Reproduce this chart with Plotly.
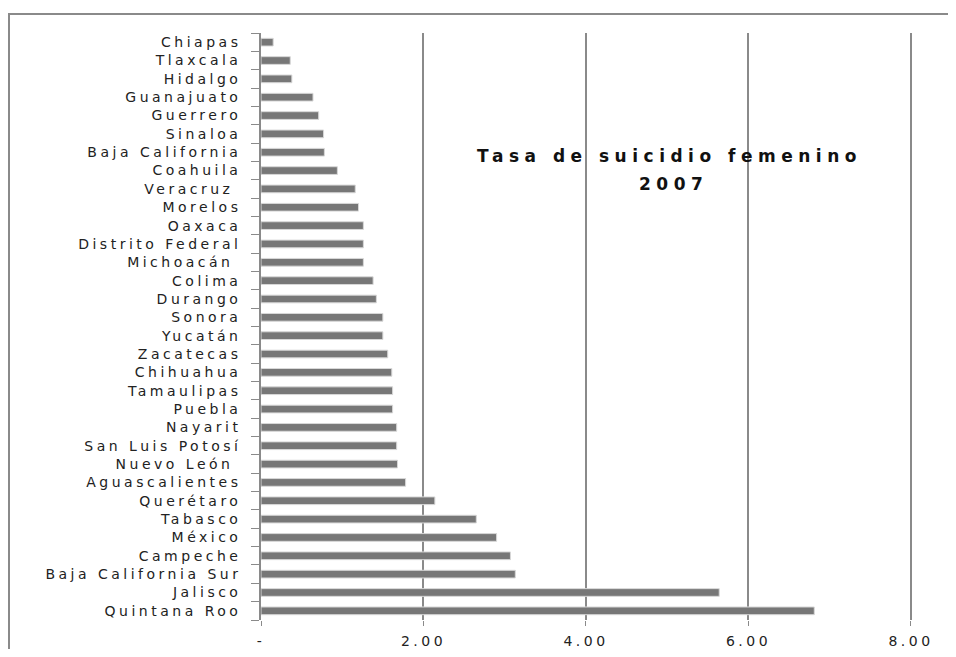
import plotly.graph_objects as go

estados = ["Chiapas", "Tlaxcala", "Hidalgo", "Guanajuato", "Guerrero", "Sinaloa",
           "Baja California", "Coahuila", "Veracruz ", "Morelos", "Oaxaca",
           "Distrito Federal", "Michoacán ", "Colima", "Durango", "Sonora", "Yucatán",
           "Zacatecas", "Chihuahua", "Tamaulipas", "Puebla", "Nayarit",
           "San Luis Potosí", "Nuevo León ", "Aguascalientes", "Querétaro", "Tabasco",
           "México", "Campeche", "Baja California Sur", "Jalisco", "Quintana Roo"]
tasa = [0.15, 0.36, 0.38, 0.64, 0.71, 0.77, 0.78, 0.94, 1.16, 1.20, 1.26,
        1.26, 1.26, 1.38, 1.42, 1.50, 1.50, 1.56, 1.61, 1.62, 1.62, 1.67,
        1.67, 1.68, 1.78, 2.14, 2.65, 2.90, 3.07, 3.13, 5.64, 6.81]
x_ticks = [0, 2, 4, 6, 8]
x_labels = ["-", "2.00", "4.00", "6.00", "8.00"]
titulo = "Tasa de suicidio femenino"
anio = "2007"


def wide(s, sp):
    # the source image is stretched sideways, so space the letters out
    return f'<span style="letter-spacing:{sp}px">{s}</span>'


# page body has an 8px margin, so the figure is a bit smaller than the window
W, H = 948, 641
# range goes a hair past 8 so plotly still draws the 8.00 gridline
XMAX = 8.025
L, T, PW, PH = 253, 25, 652, 587


def px(x):
    return (x - L) / PW


def py(y):
    return (T + PH - y) / PH


fig = go.Figure(go.Bar(
    x=tasa, y=estados, orientation="h", width=0.42,
    marker=dict(color="#777777", line=dict(color="#d8d8d8", width=1)),
))

fig.update_layout(
    width=W, height=H,
    margin=dict(l=L, r=W - L - PW, t=T, b=H - T - PH),
    paper_bgcolor="white", plot_bgcolor="white",
    showlegend=False,
    font=dict(family="DejaVu Sans", size=14, color="#222222"),
)
fig.update_xaxes(
    range=[0, XMAX], tickvals=x_ticks, ticktext=[wide(t, 3.5) for t in x_labels],
    showgrid=True, gridcolor="#8a8a8a", gridwidth=1.5,
    zeroline=False, showline=False,
    ticks="outside", ticklen=5, tickcolor="#8a8a8a",
    ticklabelstandoff=3, automargin=False, ticklabeloverflow="allow",
    tickfont=dict(size=14, color="#222222"),
)
fig.update_yaxes(
    autorange="reversed", showgrid=False,
    tickvals=estados, ticktext=[wide(e, 3.5) for e in estados],
    showline=True, linecolor="#8a8a8a", linewidth=1.5,
    ticks="outside", ticklen=8, tickcolor="#8a8a8a", tickson="boundaries",
    ticklabelstandoff=15, automargin=False,
    tickfont=dict(size=14, color="#222222"),
)

fig.add_annotation(
    text="<b>" + wide(titulo, 5.5) + "</b>",
    xref="paper", yref="paper", x=px(661), y=py(136),
    showarrow=False, font=dict(family="DejaVu Sans", size=17, color="#111111"),
)
fig.add_annotation(
    text="<b>" + wide(anio, 5.5) + "</b>",
    xref="paper", yref="paper", x=px(665), y=py(164),
    showarrow=False, font=dict(family="DejaVu Sans", size=17, color="#111111"),
)

# outer frame (only top and left edges visible), one open path
fx, ft, fb, fr = px(1), py(6), py(H + 10), px(W + 10)
fig.add_shape(type="path", xref="paper", yref="paper",
              path=f"M {fx},{fb} L {fx},{ft} L {fr},{ft}",
              line=dict(color="#8a8a8a", width=2))

fig.write_html("out.html")
